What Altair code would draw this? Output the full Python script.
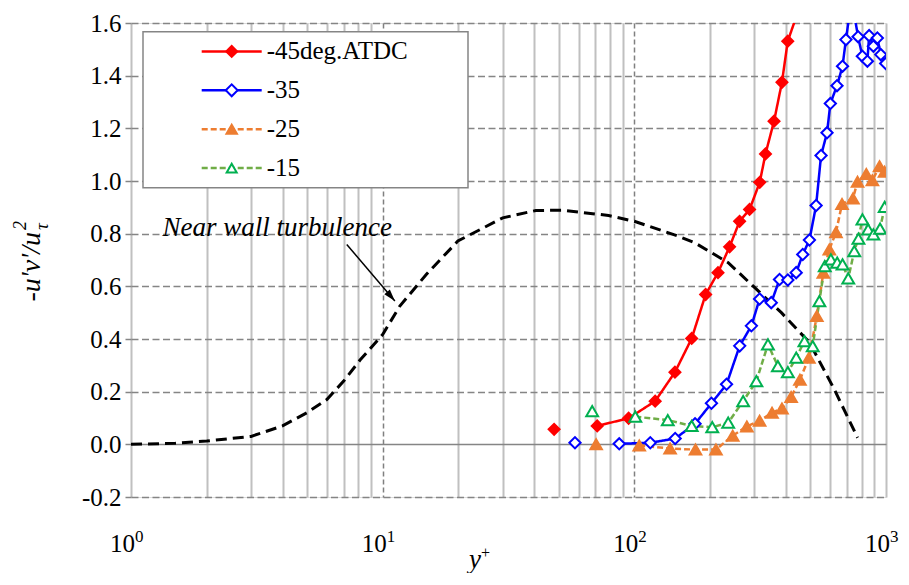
import math
import altair as alt
import pandas as pd

SERIF = "Liberation Serif"

# ---------------- data ----------------
series_names = ["-45deg.ATDC", "-35", "-25", "-15"]

nw_yplus = [1, 1.5, 2.0, 3.0, 4.0, 5.0, 6.0, 7.0, 8.13, 10, 11.7, 14.9, 19.9, 30, 40.6,
            51.8, 79, 100, 150, 174, 236, 301, 384, 497, 623, 771]
nw_val = [0.0, 0.004, 0.0125, 0.03, 0.07, 0.12, 0.17, 0.24, 0.32, 0.417, 0.525, 0.645,
          0.772, 0.86, 0.888, 0.889, 0.869, 0.847, 0.79, 0.765, 0.69, 0.595, 0.5, 0.386,
          0.209, 0.025]

s45_yplus = [48.0, 71.2, 94.9, 121, 145, 169, 192, 215, 239, 262, 287, 315, 332, 359,
             386, 407, 510]
s45_val = [0.057, 0.07, 0.099, 0.164, 0.274, 0.402, 0.569, 0.652, 0.750, 0.847, 0.892,
           0.995, 1.103, 1.227, 1.375, 1.531, 1.80]

s35_yplus = [58.1, 87.1, 115.7, 145.3, 174.3, 202.5, 232.5, 262.2, 291.8, 314.6, 350,
             377.5, 407.4, 439.7, 466.9, 496.3, 527.6, 552, 583, 601, 638.7, 671.8,
             693.1, 730, 774.6, 805.4, 843.4, 857, 891, 924, 953.6, 997.4]
s35_val = [0.006, 0.002, 0.006, 0.022, 0.078, 0.156, 0.228, 0.374, 0.45, 0.552, 0.538,
           0.626, 0.624, 0.652, 0.721, 0.776, 0.907, 1.097, 1.183, 1.294, 1.362, 1.436,
           1.537, 1.69, 1.548, 1.474, 1.455, 1.552, 1.512, 1.543, 1.48, 1.446]

s25_yplus = [70.5, 104.6, 138.7, 175, 211, 246, 280, 314.6, 352.5, 386, 419.8, 455, 494,
             531, 563.6, 595.4, 632.8, 668.7, 739, 770.6, 835, 883, 942.6, 986.6]
s25_val = [0.0, -0.004, -0.016, -0.02, -0.02, 0.033, 0.068, 0.09, 0.12, 0.136, 0.18,
           0.245, 0.329, 0.487, 0.652, 0.74, 0.805, 0.913, 0.934, 0.997, 1.027, 1.003,
           1.056, 1.035]

s15_yplus = [68, 100.9, 135.8, 169, 204, 236, 270.6, 305.5, 339.6, 371.9, 407.4, 439.8,
             474.2, 511.5, 543.6, 571, 604, 640, 672, 708, 748, 777, 806, 849, 891, 947,
             988]
s15_val = [0.126, 0.105, 0.092, 0.07, 0.065, 0.082, 0.164, 0.24, 0.38, 0.297, 0.274,
           0.329, 0.392, 0.373, 0.544, 0.677, 0.702, 0.69, 0.683, 0.63, 0.734, 0.781,
           0.854, 0.816, 0.797, 0.819, 0.902]

y_ticks = [-0.2, 0.0, 0.2, 0.4, 0.6, 0.8, 1.0, 1.2, 1.4, 1.6]
decades = [1, 10, 100, 1000]
decade_exp = ["0", "1", "2", "3"]

note_text = ["Near wall turbulence"]
note_x, note_y = [3.81], [0.822]
arrow_x, arrow_y, arrow_x2, arrow_y2 = [7.2], [0.759], [11.18], [0.544]

# ---------------- styles ----------------
line_colors = ["#FF0000", "#0000FF", "#ED7D31", "#70AD47"]
marker_stroke = ["#FF0000", "#0000FF", "#ED7D31", "#00B050"]
marker_fill = ["#FF0000", "#FFFFFF", "#ED7D31", "#FFFFFF"]
marker_shape = ["diamond", "diamond", "triangle-up", "triangle-up"]
marker_size = [120, 140, 110, 100]
dashes = [[1, 0], [1, 0], [6, 3], [6, 3]]

W, H = 755, 474

# ---------------- frames ----------------
def frame(name, ys, vs):
    return pd.DataFrame({"series": name, "yp": ys, "v": vs,
                         "seg": [0] + [1] * (len(ys) - 1)})

df = pd.concat([
    frame(series_names[0], s45_yplus, s45_val),
    frame(series_names[1], s35_yplus, s35_val),
    frame(series_names[2], s25_yplus, s25_val),
    frame(series_names[3], s15_yplus, s15_val),
], ignore_index=True)
nw_df = pd.DataFrame({"yp": nw_yplus, "v": nw_val})

xscale = alt.Scale(type="log", domain=[1, 1000], nice=False)
yscale = alt.Scale(domain=[-0.2, 1.6], nice=False, zero=False)

x_grid = [m * 10 ** k for k in range(3) for m in range(1, 10)] + [1000]
major = "datum.value == 10 || datum.value == 100"
xaxis = alt.Axis(values=x_grid, labels=False, ticks=False, domain=False, title=None,
                 grid=True,
                 gridWidth=alt.condition(major, alt.value(1.5), alt.value(2)),
                 gridColor=alt.condition(major, alt.value("#808080"), alt.value("#c0c0c0")),
                 gridDash=alt.condition(major, alt.value([5, 3]), alt.value([])))
yaxis = alt.Axis(values=y_ticks, format=".1f", title=None, domain=False,
                 labelExpr="replace(datum.label, '\u2212', '-')",
                 labelFont=SERIF, labelFontSize=25, labelColor="black", labelPadding=4,
                 tickSize=6, tickColor="#858585", tickWidth=1.5,
                 grid=True, gridWidth=1.5, gridColor="#858585",
                 gridDash=alt.condition("datum.value == 0", alt.value([]), alt.value([7, 3.5])))

def X(f):
    return alt.X(f, scale=xscale, axis=xaxis)

def Y(f):
    return alt.Y(f, scale=yscale, axis=yaxis)

dom = series_names
lines = alt.Chart(df).mark_line(clip=True, strokeWidth=2.5).encode(
    x=X("yp:Q"), y=Y("v:Q"),
    color=alt.Color("series:N", scale=alt.Scale(domain=dom, range=line_colors), legend=None),
    strokeDash=alt.StrokeDash("series:N", scale=alt.Scale(domain=dom, range=dashes), legend=None),
    detail="seg:N",
)
points = alt.Chart(df).mark_point(clip=True, filled=True, opacity=1, strokeWidth=2).encode(
    x=X("yp:Q"), y=Y("v:Q"),
    shape=alt.Shape("series:N", scale=alt.Scale(domain=dom, range=marker_shape), legend=None),
    stroke=alt.Stroke("series:N", scale=alt.Scale(domain=dom, range=marker_stroke), legend=None),
    fill=alt.Fill("series:N", scale=alt.Scale(domain=dom, range=marker_fill), legend=None),
    size=alt.Size("series:N", scale=alt.Scale(domain=dom, range=marker_size), legend=None),
)
nw_line = alt.Chart(nw_df).mark_line(clip=True, color="black", strokeWidth=3,
                                      strokeDash=[11, 6]).encode(x=X("yp:Q"), y=Y("v:Q"))

# annotation
note_df = pd.DataFrame({"t": note_text, "x": note_x, "y": note_y})
note = alt.Chart(note_df).mark_text(font=SERIF, fontStyle="italic", fontSize=27,
                                    color="black").encode(x=X("x:Q"), y=Y("y:Q"), text="t:N")
arr_df = pd.DataFrame({"x": arrow_x, "y": arrow_y, "x2": arrow_x2, "y2": arrow_y2})
arrow_line = alt.Chart(arr_df).mark_rule(color="black", strokeWidth=1.5).encode(
    x=X("x:Q"), y=Y("y:Q"), x2="x2:Q", y2="y2:Q")
dxp = W / 3 * math.log10(arrow_x2[0] / arrow_x[0])
dyp = H / 1.8 * (arrow_y[0] - arrow_y2[0])
ang = math.degrees(math.atan2(dxp, -dyp)) % 360
arrow_head = alt.Chart(arr_df).mark_point(shape="M0,0L0.6,2L-0.6,2Z", size=144, filled=True,
                                          color="black", opacity=1, angle=ang).encode(
    x=X("x2:Q"), y=Y("y2:Q"))

# x tick labels 10^n
tick_df = pd.DataFrame({"d": decades, "base": ["10"] * len(decades), "e": decade_exp})
tick_base = alt.Chart(tick_df).mark_text(font=SERIF, fontSize=25, align="right",
                                         baseline="alphabetic", dx=4, color="black").encode(
    x=X("d:Q"), y=alt.value(H + 55), text="base:N")
tick_exp = alt.Chart(tick_df).mark_text(font=SERIF, fontSize=17, align="left",
                                        baseline="alphabetic", dx=4, dy=-10, color="black").encode(
    x=X("d:Q"), y=alt.value(H + 55), text="e:N")

one = pd.DataFrame({"k": [0]})
# axis titles
xt_main = alt.Chart(one).mark_text(text="y", font=SERIF, fontStyle="italic", fontSize=27,
                                   align="center", baseline="alphabetic", color="black").encode(
    x=alt.value(344), y=alt.value(H + 71))
xt_sup = alt.Chart(one).mark_text(text="+", font=SERIF, fontSize=16, align="left",
                                  baseline="alphabetic", color="black").encode(
    x=alt.value(350), y=alt.value(H + 61))
yt_main = alt.Chart(one).mark_text(text="-u'v'/u", font=SERIF, fontStyle="italic", fontSize=28,
                                   angle=270, align="right", baseline="middle", color="black").encode(
    x=alt.value(-99), y=alt.value(H / 2 - 28))
yt_sub = alt.Chart(one).mark_text(text="τ", font=SERIF, fontStyle="italic", fontSize=19,
                                  angle=270, align="left", baseline="middle", color="black").encode(
    x=alt.value(-89), y=alt.value(H / 2 - 30))
yt_sup = alt.Chart(one).mark_text(text="2", font=SERIF, fontStyle="italic", fontSize=18,
                                  angle=270, align="left", baseline="middle", color="black").encode(
    x=alt.value(-110), y=alt.value(H / 2 - 30))

# legend box
legend_layers = [alt.Chart(one).mark_rect(fill="white", stroke="#858585", strokeWidth=1.5).encode(
    x=alt.value(12), x2=alt.value(337), y=alt.value(8.7), y2=alt.value(164.7))]
for i, name in enumerate(series_names):
    ly = 28.4 + 38.9 * i
    lab = pd.DataFrame({"label": [name]})
    rule_kw = dict(color=line_colors[i], strokeWidth=2.5)
    if dashes[i] != [1, 0]:
        rule_kw["strokeDash"] = dashes[i]
    legend_layers.append(alt.Chart(lab).mark_rule(**rule_kw).encode(
        x=alt.value(70.7), x2=alt.value(130.7), y=alt.value(ly)))
    legend_layers.append(alt.Chart(lab).mark_point(
        shape=marker_shape[i], size=marker_size[i], filled=True, fill=marker_fill[i],
        stroke=marker_stroke[i], strokeWidth=2, opacity=1).encode(
        x=alt.value(100.7), y=alt.value(ly)))
    legend_layers.append(alt.Chart(lab).mark_text(
        font=SERIF, fontSize=25, align="left", baseline="middle", color="black").encode(
        x=alt.value(135.7), y=alt.value(ly), text="label:N"))

chart = alt.layer(
    nw_line, lines, points, note, arrow_line, arrow_head, tick_base, tick_exp,
    xt_main, xt_sup, yt_main, yt_sub, yt_sup, *legend_layers
).properties(
    width=W, height=H,
    autosize=alt.AutoSizeParams(type="none"),
    padding={"left": 123, "top": 15, "right": 13, "bottom": 76},
).configure_view(stroke="#858585", strokeWidth=1.5).configure(background="white")

chart.save("out.html", embed_options={"renderer": "svg", "actions": False})
